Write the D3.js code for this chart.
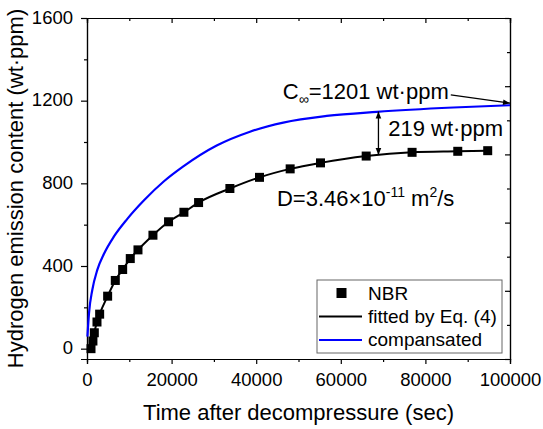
<!DOCTYPE html>
<html lang="en">
<head>
    <meta charset="UTF-8">
    <title>Hydrogen emission NBR</title>
    <script src="https://d3js.org/d3.v7.min.js"></script>
    <style>
        body { margin: 0; background: #fff; }
        text { font-family: Arial, "Liberation Sans", sans-serif; fill: #000; }
    </style>
</head>
<body>
<svg width="543" height="429"></svg>
<script>
    // measured NBR points (time in sec, content in wt.ppm)
    const nbrTime = [945, 1400, 1730, 2360, 2990, 4880, 6690, 8430, 10230, 12050, 15590, 19280,
                     22910, 26380, 33780, 40780, 48030, 55200, 66000, 76850, 87650, 94730];
    const nbrH = [0, 37, 77, 129, 167, 254, 330, 383, 436, 478, 549, 614,
                  660, 707, 775, 829, 870, 899, 932, 950, 955, 958];

    // compensated curve
    const compTime = [100, 470, 1250, 2435, 4020, 6380, 9530, 13480, 18200, 22770, 30660,
                      38530, 46400, 56670, 68490, 86600, 100000];
    const compH = [58, 171, 284, 381, 459, 543, 628, 718, 810, 882, 983,
                   1050, 1094, 1126, 1146, 1167, 1178];

    const xTicks = [0, 20000, 40000, 60000, 80000, 100000];
    const yTicks = [0, 400, 800, 1200, 1600];

    const width = 543;
    const height = 429;
    const margin = {top: 18, right: 33, bottom: 70, left: 87};

    const svg = d3.select('svg');

    const x = d3.scaleLinear().domain([0, 100000]).range([margin.left, width - margin.right]);
    const y = d3.scaleLinear().domain([-50, 1600]).range([height - margin.bottom, margin.top]);
    const yRight = d3.scaleLinear().domain([0, 10]).range([height - margin.bottom, margin.top]);

    const xMinor = d3.range(10000, 100000, 20000);
    const yMinor = d3.range(200, 1600, 400);

    // arrow heads
    const defs = svg.append('defs');
    ['arrEnd', 'arrStart'].forEach(function(id) {
        defs.append('marker')
            .attr('id', id)
            .attr('viewBox', '0 0 10 10')
            .attr('refX', id === 'arrEnd' ? 10 : 0)
            .attr('refY', 5)
            .attr('markerWidth', 10)
            .attr('markerHeight', 7)
            .attr('markerUnits', 'userSpaceOnUse')
            .attr('orient', 'auto')
            .append('path')
            .attr('d', id === 'arrEnd' ? 'M0,1 L10,5 L0,9 Z' : 'M10,1 L0,5 L10,9 Z')
            .attr('fill', '#000');
    });

    function styleAxis(g) {
        g.select('.domain').attr('stroke', '#000').attr('stroke-width', 1.2);
        g.selectAll('.tick line').attr('stroke', '#000').attr('stroke-width', 1.2);
        g.selectAll('text').style('font-size', '18.5px').attr('fill', '#000');
    }

    // bottom axis
    svg.append('g')
        .attr('transform', `translate(0,${height - margin.bottom})`)
        .call(d3.axisBottom(x).tickValues(xTicks).tickSize(5).tickPadding(9).tickFormat(d3.format('d')))
        .call(styleAxis);
    svg.append('g')
        .attr('transform', `translate(0,${height - margin.bottom})`)
        .call(d3.axisBottom(x).tickValues(xMinor).tickSize(3).tickFormat(''))
        .call(styleAxis);

    // top axis (ticks inside)
    svg.append('g')
        .attr('transform', `translate(0,${margin.top})`)
        .call(d3.axisBottom(x).tickValues(xTicks).tickSize(5).tickFormat(''))
        .call(styleAxis);
    svg.append('g')
        .attr('transform', `translate(0,${margin.top})`)
        .call(d3.axisBottom(x).tickValues(xMinor).tickSize(3).tickFormat(''))
        .call(styleAxis);

    // left axis
    svg.append('g')
        .attr('transform', `translate(${margin.left},0)`)
        .call(d3.axisLeft(y).tickValues(yTicks).tickSize(6).tickPadding(8).tickFormat(d3.format('d')))
        .call(styleAxis)
        .selectAll('text').attr('dy', '0.28em');
    svg.append('g')
        .attr('transform', `translate(${margin.left},0)`)
        .call(d3.axisLeft(y).tickValues(yMinor).tickSize(3).tickFormat(''))
        .call(styleAxis);

    // right axis (ticks inside, no labels)
    svg.append('g')
        .attr('transform', `translate(${width - margin.right},0)`)
        .call(d3.axisLeft(yRight).tickValues(d3.range(0, 11, 2)).tickSize(5).tickFormat(''))
        .call(styleAxis);
    svg.append('g')
        .attr('transform', `translate(${width - margin.right},0)`)
        .call(d3.axisLeft(yRight).tickValues(d3.range(1, 10, 2)).tickSize(3).tickFormat(''))
        .call(styleAxis);

    // axis titles
    svg.append('text')
        .attr('x', (margin.left + width - margin.right) / 2)
        .attr('y', 420)
        .attr('text-anchor', 'middle')
        .style('font-size', '22px')
        .text('Time after decompressure (sec)');
    svg.append('text')
        .attr('transform', `translate(22.5,${(margin.top + height - margin.bottom) / 2}) rotate(-90)`)
        .attr('text-anchor', 'middle')
        .style('font-size', '22px')
        .text('Hydrogen emission content (wt\u00b7ppm)');

    // compensated curve
    const compPts = compTime.map((t, i) => [t, compH[i]]);
    svg.append('path')
        .datum(compPts)
        .attr('d', d3.line().x(d => x(d[0])).y(d => y(d[1])).curve(d3.curveMonotoneX))
        .attr('fill', 'none')
        .attr('stroke', '#0000ff')
        .attr('stroke-width', 2.2);

    // fitted line
    const nbrPts = nbrTime.map((t, i) => [t, nbrH[i]]);
    svg.append('path')
        .datum(nbrPts)
        .attr('d', d3.line().x(d => x(d[0])).y(d => y(d[1])).curve(d3.curveMonotoneX))
        .attr('fill', 'none')
        .attr('stroke', '#000')
        .attr('stroke-width', 2);

    // markers
    const ms = 9;
    svg.selectAll('rect.pt')
        .data(nbrPts)
        .enter().append('rect')
        .attr('class', 'pt')
        .attr('x', d => x(d[0]) - ms / 2)
        .attr('y', d => y(d[1]) - ms / 2)
        .attr('width', ms)
        .attr('height', ms)
        .attr('fill', '#000');

    // annotations
    const cInf = svg.append('text')
        .attr('x', x(46300))
        .attr('y', y(1210))
        .style('font-size', '22px');
    cInf.append('tspan').text('C');
    cInf.append('tspan').attr('dy', 5).style('font-size', '14px').text('\u221e');
    cInf.append('tspan').attr('dy', -5).text('=1201 wt\u00b7ppm');

    svg.append('line')
        .attr('x1', x(86000)).attr('y1', y(1228))
        .attr('x2', x(100000)).attr('y2', y(1188))
        .attr('stroke', '#000')
        .attr('stroke-width', 1.3)
        .attr('marker-end', 'url(#arrEnd)');

    svg.append('line')
        .attr('x1', x(68900)).attr('y1', y(1147))
        .attr('x2', x(68900)).attr('y2', y(937))
        .attr('stroke', '#000')
        .attr('stroke-width', 1.3)
        .attr('marker-start', 'url(#arrStart)')
        .attr('marker-end', 'url(#arrEnd)');

    svg.append('text')
        .attr('x', x(71200))
        .attr('y', y(1027))
        .style('font-size', '22px')
        .text('219 wt\u00b7ppm');

    const dText = svg.append('text')
        .attr('x', x(44900))
        .attr('y', y(688))
        .style('font-size', '22px');
    dText.append('tspan').text('D=3.46\u00d710');
    dText.append('tspan').attr('dy', -9).style('font-size', '14px').text('-11');
    dText.append('tspan').attr('dy', 9).text(' m');
    dText.append('tspan').attr('dy', -9).style('font-size', '14px').text('2');
    dText.append('tspan').attr('dy', 9).text('/s');

    // legend
    const lg = svg.append('g');
    lg.append('rect')
        .attr('x', 317).attr('y', 280)
        .attr('width', 185).attr('height', 73)
        .attr('fill', '#fff')
        .attr('stroke', '#666')
        .attr('stroke-width', 1);
    lg.append('rect')
        .attr('x', 341.5 - 5).attr('y', 293 - 5)
        .attr('width', 10).attr('height', 10)
        .attr('fill', '#000');
    lg.append('line')
        .attr('x1', 319).attr('x2', 362).attr('y1', 316.5).attr('y2', 316.5)
        .attr('stroke', '#000').attr('stroke-width', 2);
    lg.append('line')
        .attr('x1', 319).attr('x2', 362).attr('y1', 340).attr('y2', 340)
        .attr('stroke', '#0000ff').attr('stroke-width', 2.2);
    const legText = ['NBR', 'fitted by Eq. (4)', 'compansated'];
    const legY = [299.5, 323, 346];
    lg.selectAll('text')
        .data(legText)
        .enter().append('text')
        .attr('x', 368)
        .attr('y', (d, i) => legY[i])
        .style('font-size', '19px')
        .text(d => d);
</script>
</body>
</html>
